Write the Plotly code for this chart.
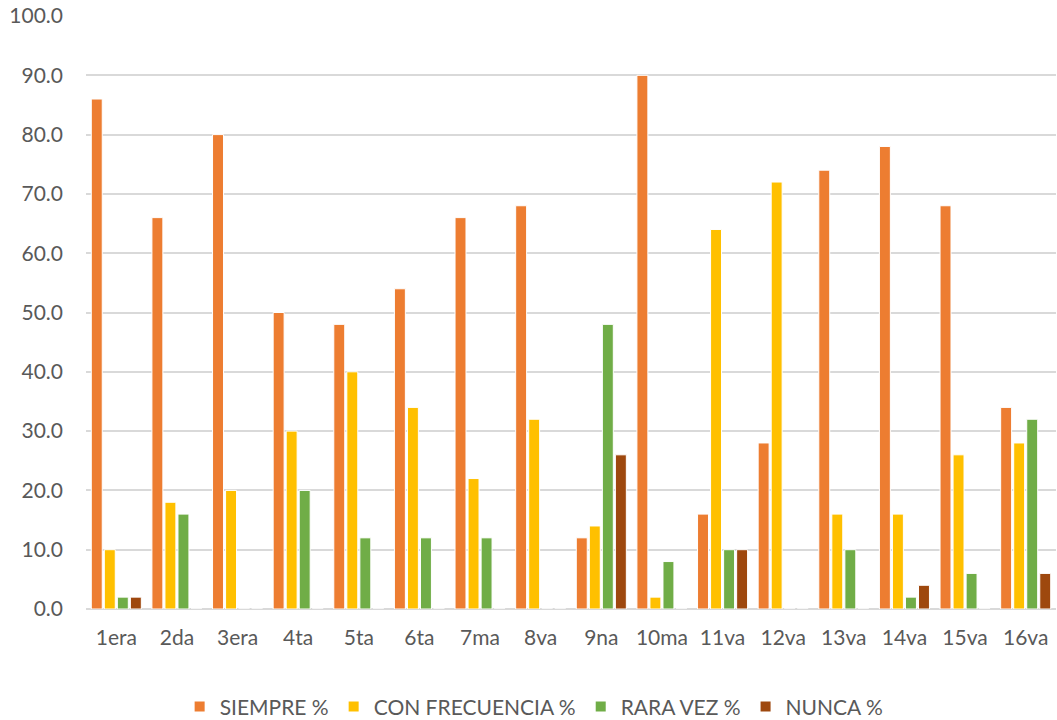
import plotly.graph_objects as go

# Categories and percentages per response type
categorias = ["1era", "2da", "3era", "4ta", "5ta", "6ta", "7ma", "8va",
              "9na", "10ma", "11va", "12va", "13va", "14va", "15va", "16va"]
siempre = [86, 66, 80, 50, 48, 54, 66, 68, 12, 90, 16, 28, 74, 78, 68, 34]
con_frecuencia = [10, 18, 20, 30, 40, 34, 22, 32, 14, 2, 64, 72, 16, 16, 26, 28]
rara_vez = [2, 16, 0, 20, 12, 12, 12, 0, 48, 8, 10, 0, 10, 2, 6, 32]
nunca = [2, 0, 0, 0, 0, 0, 0, 0, 26, 0, 10, 0, 0, 4, 0, 6]

series = [
    ("SIEMPRE %", siempre, "#ED7D31"),
    ("CON FRECUENCIA %", con_frecuencia, "#FFC000"),
    ("RARA VEZ %", rara_vez, "#70AD47"),
    ("NUNCA %", nunca, "#9E480E"),
]

fig = go.Figure()
for nombre, valores, color in series:
    fig.add_trace(go.Bar(
        x=categorias, y=valores, name=nombre,
        marker=dict(color=color, line=dict(color="white", width=1)),
    ))

fig.update_layout(
    width=1057, height=720,
    margin=dict(l=86, r=1, t=16, b=111, autoexpand=False),
    paper_bgcolor="white", plot_bgcolor="white",
    barmode="group", bargap=0.14, bargroupgap=0.16,
    font=dict(family="Lato, Open Sans, sans-serif", size=21, color="#595959"),
    showlegend=True,
    legend=dict(orientation="h", x=0.462, xanchor="center", y=-0.165, yanchor="middle",
                font=dict(size=21, color="#595959"), itemsizing="constant",
                traceorder="normal", itemwidth=30),
)
fig.update_xaxes(
    showgrid=False, showline=False, ticks="", ticklabelstandoff=14,
    tickfont=dict(size=21, color="#595959"),
)
fig.update_yaxes(
    range=[0, 100], dtick=10, tickformat=".1f",
    showgrid=True, gridcolor="#D9D9D9", gridwidth=1.5,
    zeroline=True, zerolinecolor="#D9D9D9", zerolinewidth=1.5,
    showline=False, ticks="", ticklabelstandoff=22,
    tickfont=dict(size=21, color="#595959"),
)

fig.write_html("out.html")
